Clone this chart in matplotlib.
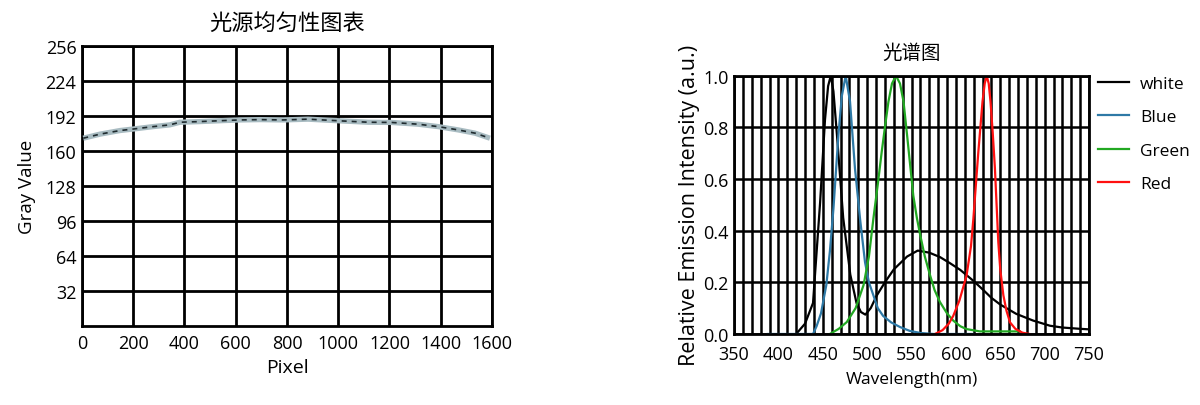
import matplotlib
matplotlib.use('Agg')
import matplotlib.pyplot as plt
from matplotlib.ticker import MultipleLocator

plt.rcParams['font.family'] = ['Open Sans', 'Noto Sans CJK SC', 'DejaVu Sans']

# ---- uniformity data (pixel, gray value) ----
pixel = [5, 70, 148, 200, 278, 343, 382, 460, 551, 617, 695, 785, 882, 1013,
         1117, 1209, 1312, 1390, 1468, 1534, 1592]
gray = [171.6, 175.3, 178.6, 180.0, 182.2, 183.8, 186.2, 186.8, 187.7, 188.3,
        188.6, 188.3, 189.0, 187.4, 186.2, 186.0, 184.4, 182.2, 179.2, 176.2, 171.6]

# ---- spectra (wavelength nm, relative intensity) ----
white_nm = [420, 430, 439, 447, 452.5, 456, 459, 462, 466, 473, 481, 488, 493, 498,
            504, 511, 520, 530, 545, 557, 570, 582, 593, 605, 612, 620, 631, 640, 650,
            668, 687, 706, 720, 740, 750]
white_val = [0, 0.04, 0.12, 0.51, 0.83, 0.96, 1.0, 0.94, 0.77, 0.45, 0.23, 0.12, 0.085,
             0.075, 0.1, 0.15, 0.2, 0.25, 0.3, 0.323, 0.315, 0.298, 0.275, 0.248, 0.228,
             0.205, 0.17, 0.14, 0.114, 0.078, 0.052, 0.032, 0.025, 0.02, 0.018]

blue_nm = [388, 439, 443, 448, 454, 458, 462, 467.6, 471.4, 475.8, 480.7, 486.3, 492,
           497.6, 502, 507, 512, 518, 527, 537, 548, 560, 575, 620]
blue_val = [0, 0, 0.03, 0.08, 0.19, 0.32, 0.485, 0.77, 0.92, 1.0, 0.9, 0.64, 0.446,
            0.278, 0.2, 0.15, 0.1, 0.07, 0.045, 0.027, 0.012, 0.004, 0, 0]

green_nm = [458, 468, 477, 487, 496, 502, 507, 512, 516.4, 520, 524, 528, 532.5, 537,
            541, 545, 552, 556, 560, 565, 571, 576, 582, 590, 597, 605, 612, 627, 650, 672]
green_val = [0, 0.02, 0.046, 0.1, 0.19, 0.3, 0.446, 0.58, 0.705, 0.8, 0.9, 0.97, 1.0,
             0.97, 0.9, 0.77, 0.536, 0.45, 0.38, 0.3, 0.226, 0.17, 0.124, 0.08, 0.052,
             0.03, 0.019, 0.01, 0.01, 0.01]

red_nm = [576.5, 585, 592, 597, 604, 612, 617, 619.7, 623, 625.3, 630, 632.5, 634.7,
          637, 639, 641.5, 644, 647.8, 650, 653.5, 657, 661, 667, 675, 683]
red_val = [0, 0.015, 0.04, 0.07, 0.13, 0.226, 0.34, 0.446, 0.6, 0.705, 0.9, 0.97, 1.0,
           0.97, 0.9, 0.78, 0.64, 0.356, 0.25, 0.15, 0.09, 0.045, 0.02, 0.005, 0]

fig = plt.figure(figsize=(12, 4.06), dpi=100)

# ------------------------------------------------------------------ left
ax1 = fig.add_axes([0.0683, 0.1946, 0.3417, 0.69])
ax1.plot(pixel, gray, color='#a9bcc2', lw=3.8, solid_capstyle='butt', zorder=3)
ax1.plot(pixel, gray, color='#1e2a2e', lw=1.2, dashes=(3, 3), zorder=4)
ax1.set_xlim(0, 1600)
ax1.set_ylim(0, 256)
ax1.set_xticks(range(0, 1601, 200))
ax1.set_yticks(range(32, 257, 32))
ax1.grid(True, color='black', lw=2.0)
ax1.set_axisbelow(True)
ax1.tick_params(length=0, labelsize=13, pad=4)
ax1.tick_params(axis='x', pad=6)
for s in ax1.spines.values():
    s.set_linewidth(2.0)
ax1.set_title('光源均匀性图表', family=['Noto Sans CJK SC'], fontsize=16, pad=12)
ax1.set_xlabel('Pixel', fontsize=14, labelpad=4)
ax1.set_ylabel('Gray Value', fontsize=13.5, labelpad=7)

# ------------------------------------------------------------------ right
ax2 = fig.add_axes([0.6117, 0.1749, 0.2958, 0.636])
ax2.plot(white_nm, white_val, color='black', lw=1.6, label='white')
ax2.plot(blue_nm, blue_val, color='#2e79a6', lw=1.6, label='Blue')
ax2.plot(green_nm, green_val, color='#22a822', lw=1.6, label='Green')
ax2.plot(red_nm, red_val, color='#ff1010', lw=1.6, label='Red')
ax2.set_xlim(350, 750)
ax2.set_ylim(0, 1.0)
ax2.xaxis.set_major_locator(MultipleLocator(50))
ax2.xaxis.set_minor_locator(MultipleLocator(10))
ax2.yaxis.set_major_locator(MultipleLocator(0.2))
ax2.grid(True, which='both', axis='x', color='black', lw=1.8)
ax2.grid(True, which='major', axis='y', color='black', lw=1.8)
ax2.set_axisbelow(True)
ax2.tick_params(which='both', length=0, labelsize=13, pad=4)
ax2.tick_params(axis='x', which='both', pad=8)
ax2.set_yticklabels(['%.1f' % v for v in ax2.get_yticks()])
for s in ax2.spines.values():
    s.set_linewidth(2.0)
ax2.set_title('光谱图', family=['Noto Sans CJK SC'], fontsize=14, pad=13)
ax2.set_xlabel('Wavelength(nm)', fontsize=12.5, labelpad=6)
ax2.set_ylabel('Relative Emission Intensity (a.u.)', fontsize=15.5, labelpad=2)

ax2.legend(loc='upper left', bbox_to_anchor=(1089 / 1200, 1 - 68 / 406),
           bbox_transform=fig.transFigure, frameon=False, fontsize=12.5,
           handlelength=1.8, handletextpad=0.65, labelspacing=1.0, borderpad=0)

fig.savefig('out.png', dpi=100)
